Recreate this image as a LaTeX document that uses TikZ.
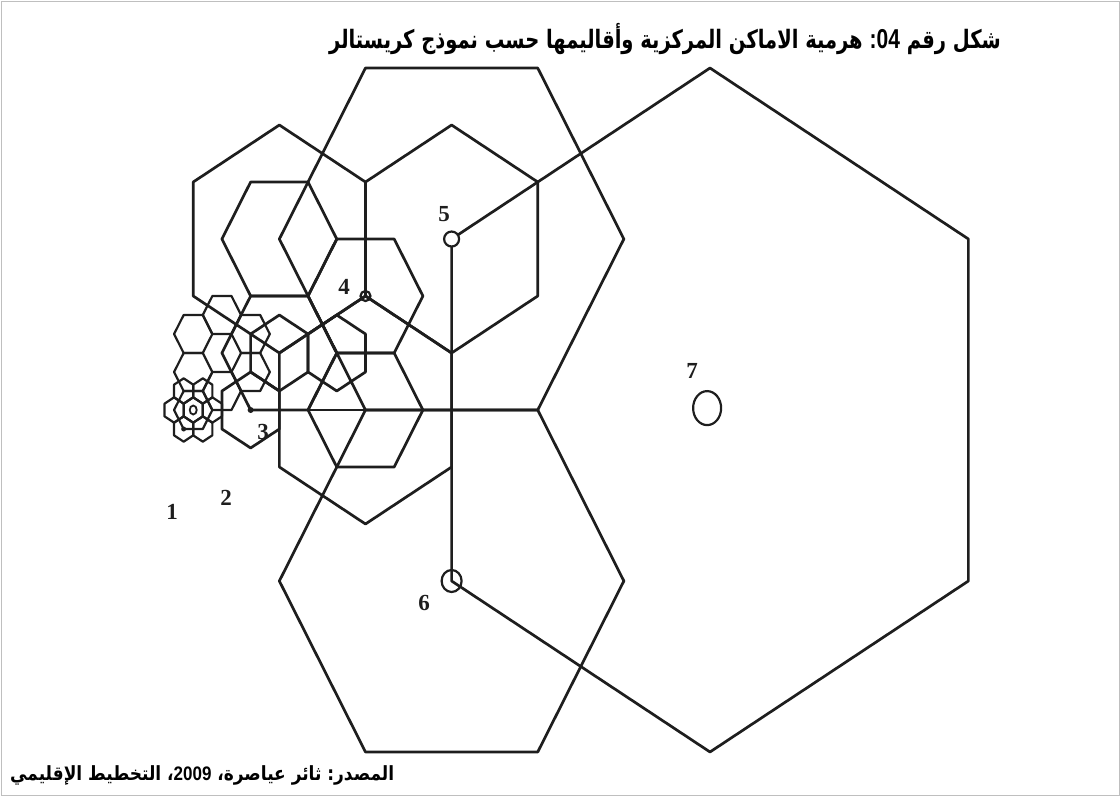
\documentclass[tikz,border=0pt]{standalone}
\usepackage{fontspec}
\usetikzlibrary{shapes.geometric}
\TeXXeTstate=1
\setmainfont{Liberation Serif}
\newfontfamily\arabicfont[Script=Arabic]{DejaVu Sans}
\newfontfamily\latinsans{Liberation Sans}
\newcommand\aw[1]{\beginR #1\endR}
\definecolor{ink}{HTML}{1E1E1E}
\tikzset{
  hexline/.style={draw=ink,line width=2.7pt,line join=round,line cap=round},
  smallhex/.style={draw=ink,line width=2.2pt,line join=round,line cap=round},
  numlabel/.style={font=\fontsize{23}{23}\bfseries\selectfont,text=ink,inner sep=0pt},
  place/.style={draw=ink,line width=2.2pt,fill=white},
  openplace/.style={draw=ink,line width=2.2pt}
}
\newcommand\hexP[4][hexline]{\draw[#1] (#2,#3) +(0,-2*#4) -- +(#4,-#4) -- +(#4,#4) -- +(0,2*#4) -- +(-#4,#4) -- +(-#4,-#4) -- cycle;}
\newcommand\hexF[4][hexline]{\draw[#1] (#2,#3) +(-2*#4,0) -- +(-#4,-3*#4) -- +(#4,-3*#4) -- +(2*#4,0) -- +(#4,3*#4) -- +(-#4,3*#4) -- cycle;}
\begin{document}
\begin{tikzpicture}[x=1pt,y=-1pt]
\useasboundingbox (0,0) rectangle (1120,796);
\draw[black!25,line width=1pt] (1,1) rectangle (1119,795);
% title
\node[inner sep=0pt] (title) at (665,39) {\scalebox{1}[1.3]{\arabicfont\bfseries\fontsize{19.5}{20}\selectfont \aw{كريستالر} \aw{نموذج} \aw{حسب} \aw{وأقاليمها} \aw{المركزية} \aw{الاماكن} \aw{هرمية} {\latinsans\fontsize{21}{21}\selectfont :04} \aw{رقم} \aw{شكل}}};
\node[inner sep=0pt,anchor=west] (source) at (10,775) {\scalebox{1}[1.15]{\arabicfont\bfseries\fontsize{17}{18}\selectfont \aw{الإقليمي} \aw{التخطيط} ،{\latinsans 2009} ،\aw{عياصرة} \aw{ثائر} :\aw{المصدر}}};
\begin{scope}[shift={(710pt,-410pt)},x=9.57pt,y=-6.333pt]
% level 7
\hexP{0}{0}{27}
% level 6
\hexF{-27}{-27}{9}
\hexF{-27}{27}{9}
% level 5
\hexP{-27}{-27}{9}
\hexP{-45}{-27}{9}
\hexP{-36}{0}{9}
% level 4
\hexF{-36}{-18}{3}
\hexF{-45}{-27}{3}
\hexF{-36}{0}{3}
\hexF{-45}{-9}{3}
% level 3
\hexP{-48}{0}{3}
\hexP{-45}{-9}{3}
\hexP{-39}{-9}{3}
% level 2 ring
\foreach \u/\v in {-51/-15,-48/-12,-48/-6,-51/-3,-54/-6,-54/-12}{\hexF[smallhex]{\u}{\v}{1}}
\hexF[smallhex]{-54}{0}{1}
% level 1 flower
\foreach \u/\v in {-54/0,-52/0,-56/0,-53/-3,-55/-3,-53/3,-55/3}{\hexP[smallhex]{\u}{\v}{1}}
% connector
\coordinate (h1) at (-48,0);
\coordinate (h2) at (-18,0);
\draw[hexline] (h1) -- (h2);
% places
\node[place,circle,minimum size=15pt,inner sep=0pt] (p5) at (-27,-27) {};
\node[openplace,ellipse,minimum width=20pt,minimum height=22pt,inner sep=0pt] (p6) at (-27,27) {};
\node[openplace,ellipse,minimum width=28pt,minimum height=34pt,inner sep=0pt] (p7) at (-0.3,-0.3) {};
\node[openplace,circle,minimum size=10pt,inner sep=0pt] (p4) at (-36,-18) {};
\fill[ink] (p4) circle (1.6pt);
\node[fill=ink,circle,minimum size=6pt,inner sep=0pt] (p3) at (-48,0) {};
\node[place,ellipse,minimum width=7pt,minimum height=9pt,line width=1.8pt,inner sep=0pt] (p2) at (-54,0) {};
\node[fill=ink,circle,minimum size=5pt,inner sep=0pt] (p1) at (-55,3) {};
\end{scope}
% labels
\node[numlabel] (l1) at (172,512) {1};
\node[numlabel] (l2) at (226,498) {2};
\node[numlabel] (l3) at (263,432) {3};
\node[numlabel] (l4) at (344,287) {4};
\node[numlabel] (l5) at (444,214) {5};
\node[numlabel] (l6) at (424,603) {6};
\node[numlabel] (l7) at (692,371) {7};
\end{tikzpicture}
\end{document}
